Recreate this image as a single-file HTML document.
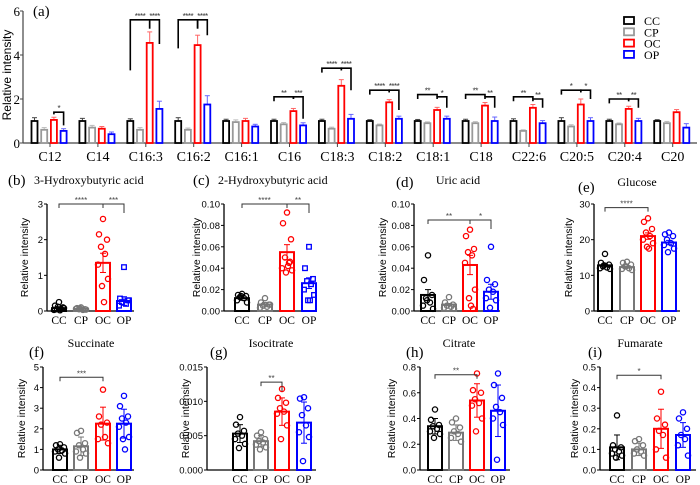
<!DOCTYPE html>
<html><head><meta charset="utf-8">
<style>
html,body{margin:0;padding:0;background:#fff;}
svg{display:block;}
.serif{font-family:"Liberation Serif",serif;}
.sans{font-family:"Liberation Sans",sans-serif;}
</style></head>
<body>
<svg id="fig" width="700" height="485" viewBox="0 0 700 485" xmlns="http://www.w3.org/2000/svg"></svg>
<script>
// ---------- Panel (a) data ----------
const aCategories = ["C12","C14","C16:3","C16:2","C16:1","C16","C18:3","C18:2","C18:1","C18","C22:6","C20:5","C20:4","C20"];
const aGroups = ["CC","CP","OC","OP"];
const aCC = [1,1,1,1,1,1,1,1,1,1,1,1,1,1];
const aCP = [0.6,0.7,0.6,0.6,0.95,0.85,0.65,0.8,0.9,0.9,0.55,0.75,0.85,0.9];
const aOC = [1.05,0.65,4.55,4.45,1.0,1.45,2.6,1.85,1.5,1.7,1.6,1.75,1.55,1.4];
const aOP = [0.55,0.4,1.55,1.75,0.75,0.8,1.1,1.1,1.1,1.0,0.9,1.0,1.0,0.7];
const aErrCC = [0.15,0.12,0.1,0.15,0.08,0.08,0.08,0.06,0.07,0.08,0.1,0.15,0.08,0.06];
const aErrCP = [0.1,0.1,0.1,0.08,0.1,0.08,0.07,0.06,0.06,0.07,0.05,0.08,0.06,0.08];
const aErrOC = [0.12,0.1,0.5,0.45,0.12,0.12,0.28,0.12,0.12,0.14,0.15,0.25,0.12,0.12];
const aErrOP = [0.1,0.1,0.35,0.4,0.1,0.12,0.2,0.12,0.12,0.18,0.12,0.15,0.12,0.18];
const aTicks = [0,2,4,6];
// brackets: [category index, from bar, to bar, top, left arm end, right arm end, label]
const aBrackets = [
 [0,2,3,1.4,1.3,0.8,"*"],
 [2,0,2,5.6,3.3,5.2,"****"],[2,2,3,5.6,5.2,4.5,"****"],
 [3,0,2,5.6,4.3,5.2,"****"],[3,2,3,5.6,5.2,4.9,"****"],
 [5,0,2,2.1,1.9,2.0,"**"],[5,2,3,2.1,2.0,1.1,"***"],
 [6,0,2,3.4,3.2,3.3,"****"],[6,2,3,3.4,3.3,2.4,"****"],
 [7,0,2,2.4,2.2,2.3,"****"],[7,2,3,2.4,2.3,1.5,"****"],
 [8,0,2,2.2,2.0,2.1,"**"],[8,2,3,2.1,2.0,1.6,"*"],
 [9,0,2,2.2,2.0,2.1,"**"],[9,2,3,2.1,2.0,1.6,"**"],
 [10,0,2,2.1,1.9,2.0,"**"],[10,2,3,2.0,1.9,1.6,"**"],
 [11,0,2,2.4,2.2,2.3,"*"],[11,2,3,2.4,2.3,2.0,"*"],
 [12,0,2,2.0,1.8,1.9,"**"],[12,2,3,2.0,1.9,1.6,"**"]
];

// ---------- small panels data ----------
const panelTitles = ["3-Hydroxybutyric acid","2-Hydroxybutyric acid","Uric acid","Glucose","Succinate","Isocitrate","Citrate","Fumarate"];
const panelLetters = ["(b)","(c)","(d)","(e)","(f)","(g)","(h)","(i)"];
const bMeans=[0.08,0.06,1.35,0.28], bErr=[0.04,0.02,0.27,0.12], bTicks=[0,1,2,3], bTickLabels=["0","1","2","3"];
const bPts=[[0.25,0.15,0.1,0.05,0.05,0.03,0.08,0.12,0.02],[0.1,0.08,0.05,0.05,0.03,0.06,0.04,0.07],[2.58,2.15,2.0,1.8,1.6,1.3,0.9,0.7,0.25],[1.23,0.35,0.3,0.25,0.2,0.15,0.3]];
const cMeans=[0.012,0.006,0.055,0.026], cErr=[0.002,0.002,0.007,0.005], cTicks=[0,0.02,0.04,0.06,0.08,0.1], cTickLabels=["0.00","0.02","0.04","0.06","0.08","0.10"];
const cPts=[[0.016,0.015,0.014,0.013,0.012,0.01,0.008,0.014],[0.012,0.008,0.006,0.005,0.004,0.003,0.006],[0.092,0.082,0.067,0.05,0.045,0.04,0.038,0.036,0.042,0.046],[0.06,0.04,0.03,0.028,0.025,0.02,0.015,0.01,0.01]];
const dMeans=[0.015,0.006,0.043,0.018], dErr=[0.005,0.001,0.009,0.007], dTicks=[0,0.02,0.04,0.06,0.08,0.1], dTickLabels=["0.00","0.02","0.04","0.06","0.08","0.10"];
const dPts=[[0.052,0.029,0.015,0.012,0.008,0.005,0.002,0.01],[0.013,0.008,0.006,0.005,0.004,0.003,0.002],[0.076,0.07,0.058,0.055,0.052,0.045,0.02,0.012,0.005,0.002],[0.06,0.029,0.025,0.02,0.018,0.012,0.01,0.003]];
const eMeans=[12.8,12.3,21,19.2], eErr=[0.4,0.3,0.9,0.6], eTicks=[0,10,20,30], eTickLabels=["0","10","20","30"];
const ePts=[[16,13.5,13,12.5,12.2,12,11.8,12.8],[13.8,13.5,13,12.5,12,11.8,11.5,12.5],[26,25,23,22,21,20,19,18,17.5],[22,21.5,21,20,19,18.5,17.5,16.5]];
const fMeans=[1.0,1.15,2.25,2.25], fErr=[0.2,0.45,0.8,0.7], fTicks=[0,1,2,3,4,5], fTickLabels=["0","1","2","3","4","5"];
const fPts=[[1.25,1.2,1.1,1.0,0.95,0.9,0.8,0.6],[1.9,1.8,1.3,1.2,1.0,0.9,0.8,0.6],[3.9,2.6,2.3,2.2,1.6,1.5,1.3],[3.6,3.1,2.6,2.5,2.3,2.1,1.6,1.5,1.0]];
const gMeans=[0.0053,0.0042,0.0085,0.0069], gErr=[0.0013,0.0008,0.002,0.003], gTicks=[0,0.005,0.01,0.015], gTickLabels=["0.000","0.005","0.010","0.015"];
const gPts=[[0.0077,0.0066,0.0057,0.0053,0.005,0.0045,0.0038,0.0032],[0.0055,0.005,0.0045,0.0042,0.004,0.0037,0.0033,0.003],[0.0118,0.0105,0.0098,0.009,0.0085,0.0082,0.0065,0.0045],[0.0106,0.0104,0.009,0.008,0.0065,0.0055,0.0048,0.0013]];
const hMeans=[0.34,0.29,0.54,0.46], hErr=[0.06,0.06,0.13,0.2], hTicks=[0,0.2,0.4,0.6,0.8], hTickLabels=["0.0","0.2","0.4","0.6","0.8"];
const hPts=[[0.47,0.39,0.35,0.34,0.32,0.3,0.28,0.25],[0.4,0.37,0.33,0.3,0.28,0.25,0.22],[0.75,0.62,0.6,0.55,0.52,0.5,0.4,0.3],[0.75,0.66,0.56,0.49,0.45,0.4,0.35,0.08]];
const iMeans=[0.11,0.1,0.2,0.17], iErr=[0.06,0.03,0.095,0.06], iTicks=[0,0.1,0.2,0.3,0.4,0.5], iTickLabels=["0.0","0.1","0.2","0.3","0.4","0.5"];
const iPts=[[0.265,0.12,0.11,0.1,0.09,0.08,0.07,0.06],[0.15,0.14,0.12,0.1,0.09,0.08,0.07],[0.38,0.25,0.22,0.19,0.17,0.1,0.06],[0.28,0.25,0.2,0.17,0.15,0.12,0.07]];
// brackets small panels: [from, to, value, label]
const bBr=[[0,2,3,"****"],[2,3,3,"***"]];
const cBr=[[0,2,0.1,"****"],[2,3,0.1,"**"]];
const dBr=[[0,2,0.085,"**"],[2,3,0.085,"*"]];
const eBr=[[0,2,29,"****"]];
const fBr=[[0,2,4.5,"***"]];
const gBr=[[1,2,0.0128,"**"]];
const hBr=[[0,2,0.74,"**"]];
const iBr=[[0,2,0.46,"*"]];

const NS="http://www.w3.org/2000/svg";
const svg=document.getElementById("fig");
function el(tag,attrs,parent,text){const e=document.createElementNS(NS,tag);for(const k in attrs)e.setAttribute(k,attrs[k]);if(text!==undefined)e.textContent=text;(parent||svg).appendChild(e);return e;}
const colors=["#000","#999","#f00","#0000ff"];
const ptColors=["#000","#777","#f00","#0000ff"];
const errColors=["#444","#bbb","#f66","#66f"];

// ---------- Panel (a) ----------
(function(){
  const g=el("g",{});
  
  
  const x0=23, x1=697, y0=143, ppu=22;
  const Y=v=>y0-v*ppu;
  const gx=i=>50+i*47.9;
  const bx=(i,j)=>gx(i)-15.5+j*9.7;
  el("line",{x1:x0,y1:Y(6),x2:x0,y2:y0,stroke:"#444","stroke-width":1.2},g);
  el("line",{x1:x0,y1:y0,x2:x1,y2:y0,stroke:"#444","stroke-width":1.2},g);
  aTicks.forEach(t=>{
    el("line",{x1:x0-3,y1:Y(t),x2:x0,y2:Y(t),stroke:"#444"},g);
    const tl=el("text",{x:x0-3,y:Y(t)+5,"text-anchor":"end","font-size":13,class:"serif"},g,String(t));
    
    
  });
  const yt=el("text",{transform:"translate(11,75) rotate(-90)","text-anchor":"middle","font-size":12,class:"sans"},g,"Relative intensity");
  
  
  const pl=el("text",{x:33,y:16,"font-size":15,class:"serif"},g,"(a)");
  
  
  const series=[aCC,aCP,aOC,aOP], errs=[aErrCC,aErrCP,aErrOC,aErrOP];
  aCategories.forEach((c,i)=>{
    el("line",{x1:gx(i),y1:y0,x2:gx(i),y2:y0+4,stroke:"#444"},g);
    const cl=el("text",{x:gx(i),y:y0+18,"text-anchor":"middle","font-size":14,class:"serif"},g,c);
    
    
    series.forEach((s,j)=>{
      const v=s[i], e=errs[j][i], cx=bx(i,j);
      el("line",{x1:cx,y1:Y(v+e),x2:cx,y2:Y(v),stroke:errColors[j],"stroke-width":1},g);
      el("line",{x1:cx-2.5,y1:Y(v+e),x2:cx+2.5,y2:Y(v+e),stroke:errColors[j],"stroke-width":1},g);
      const r=el("rect",{x:cx-3,y:Y(v),width:6,height:v*ppu,fill:"#fff",stroke:colors[j],"stroke-width":1.8},g);
      
      
    });
  });
  aBrackets.forEach(b=>{
    const xa=bx(b[0],b[1]), xb=bx(b[0],b[2]);
    el("polyline",{points:`${xa},${Y(b[4])} ${xa},${Y(b[3])} ${xb},${Y(b[3])} ${xb},${Y(b[5])}`,fill:"none",stroke:"#000","stroke-width":1.6},g);
    const st=el("text",{x:(xa+xb)/2,y:Y(b[3])-1,"text-anchor":"middle","font-size":8,class:"sans",fill:"#333","letter-spacing":"-0.5"},g,b[6]);
    
    
  });
  const lg=el("g",{},g);
  
  
  aGroups.forEach((n,j)=>{
    const y=17+j*11.3;
    const e=el("g",{},lg);
    
    
    el("rect",{x:624,y:y,width:10,height:7,fill:"#fff",stroke:colors[j],"stroke-width":1.8},e);
    el("text",{x:644,y:y+8,"font-size":12,class:"serif"},e,n);
  });
})();

// ---------- small panels ----------
const panels=[
 {m:bMeans,e:bErr,t:bTicks,tl:bTickLabels,p:bPts,br:bBr,ax:47,bars:[59,81,103,124],y0:311,yt:204,tx:28,titleX:34,anchor:"start",titleY:184,lx:8,ly:185,x1:134},
 {m:cMeans,e:cErr,t:cTicks,tl:cTickLabels,p:cPts,br:cBr,ax:224,bars:[242,265,287,309],y0:311,yt:204,tx:200,titleX:218,anchor:"start",titleY:184,lx:193,ly:185,x1:317},
 {m:dMeans,e:dErr,t:dTicks,tl:dTickLabels,p:dPts,br:dBr,ax:414,bars:[428,449,470,491],y0:311,yt:204,tx:386,titleX:458,anchor:"middle",titleY:184,lx:396,ly:187,x1:500},
 {m:eMeans,e:eErr,t:eTicks,tl:eTickLabels,p:ePts,br:eBr,ax:594,bars:[605,627,648,669],y0:311,yt:204,tx:572,titleX:637,anchor:"middle",titleY:186,lx:578,ly:192,x1:680},
 {m:fMeans,e:fErr,t:fTicks,tl:fTickLabels,p:fPts,br:fBr,ax:43,bars:[60,81,103,124],y0:470,yt:367,tx:25,titleX:91,anchor:"middle",titleY:347,lx:29,ly:357,x1:134},
 {m:gMeans,e:gErr,t:gTicks,tl:gTickLabels,p:gPts,br:gBr,ax:207,bars:[240,261,282,304],y0:470,yt:367,tx:189,titleX:271,anchor:"middle",titleY:347,lx:210,ly:357,x1:316},
 {m:hMeans,e:hErr,t:hTicks,tl:hTickLabels,p:hPts,br:hBr,ax:420,bars:[435,456,477,498],y0:470,yt:367,tx:395,titleX:459,anchor:"middle",titleY:347,lx:406,ly:357,x1:510},
 {m:iMeans,e:iErr,t:iTicks,tl:iTickLabels,p:iPts,br:iBr,ax:600,bars:[617,639,661,683],y0:470,yt:367,tx:578,titleX:640,anchor:"middle",titleY:347,lx:588,ly:357,x1:696}
];
const jitter=[0,-4,4,-2,2,-5,5,-1,1,3];
const letters="bcdefghi";
panels.forEach((P,k)=>{
  const g=el("g",{});
  
  
  const tmax=P.t[P.t.length-1];
  const Y=v=>P.y0-(v/tmax)*(P.y0-P.yt);
  el("line",{x1:P.ax,y1:P.yt,x2:P.ax,y2:P.y0,stroke:"#000","stroke-width":1.3},g);
  el("line",{x1:P.ax,y1:P.y0,x2:P.x1,y2:P.y0,stroke:"#000","stroke-width":1.3},g);
  P.t.forEach((t,i)=>{
    el("line",{x1:P.ax-3,y1:Y(t),x2:P.ax,y2:Y(t),stroke:"#000"},g);
    const tl=el("text",{x:P.ax-4,y:Y(t)+3.5,"text-anchor":"end","font-size":9.5,class:"sans"},g,P.tl[i]);
    
    
  });
  const yt=el("text",{transform:`translate(${P.tx},${(P.yt+P.y0)/2}) rotate(-90)`,"text-anchor":"middle","font-size":10.5,class:"sans"},g,"Relative intensity");
  
  
  const ti=el("text",{x:P.titleX,y:P.titleY,"text-anchor":P.anchor,"font-size":12,class:"serif"},g,panelTitles[k]);
  
  
  const pl=el("text",{x:P.lx,y:P.ly,"font-size":15,class:"serif"},g,panelLetters[k]);
  
  
  aGroups.forEach((n,j)=>{
    const cx=P.bars[j], v=P.m[j], e=P.e[j];
    const cl=el("text",{x:cx,y:P.y0+13,"text-anchor":"middle","font-size":11.5,class:"serif"},g,n);
    
    
    const r=el("rect",{x:cx-7,y:Y(v),width:14,height:P.y0-Y(v),fill:"#fff",stroke:ptColors[j],"stroke-width":2},g);
    
    
    el("line",{x1:cx,y1:Y(v-e),x2:cx,y2:Y(v+e),stroke:ptColors[j],"stroke-width":1},g);
    el("line",{x1:cx-3,y1:Y(v+e),x2:cx+3,y2:Y(v+e),stroke:ptColors[j],"stroke-width":1},g);
    el("line",{x1:cx-3,y1:Y(v-e),x2:cx+3,y2:Y(v-e),stroke:ptColors[j],"stroke-width":1},g);
    P.p[j].forEach((pv,pi)=>{
      const px=cx+jitter[pi%jitter.length];
      let m;
      if(k===0&&j===3||k===1&&j===3) m=el("rect",{x:px-2.3,y:Y(pv)-2.3,width:4.6,height:4.6,fill:"none",stroke:ptColors[j],"stroke-width":1.3},g);
      else m=el("circle",{cx:px,cy:Y(pv),r:2.6,fill:"none",stroke:ptColors[j],"stroke-width":1.3},g);
      
      
    });
  });
  P.br.forEach(b=>{
    const xa=P.bars[b[0]], xb=P.bars[b[1]], y=Y(b[2]);
    el("polyline",{points:`${xa},${y+4} ${xa},${y} ${xb},${y} ${xb},${y+(b[1]-b[0]===1?9:4)}`,fill:"none",stroke:"#333","stroke-width":1},g);
    const st=el("text",{x:(xa+xb)/2,y:y-1,"text-anchor":"middle","font-size":8,class:"sans",fill:"#444"},g,b[3]);
    
    
  });
});
</script>
</body></html>
